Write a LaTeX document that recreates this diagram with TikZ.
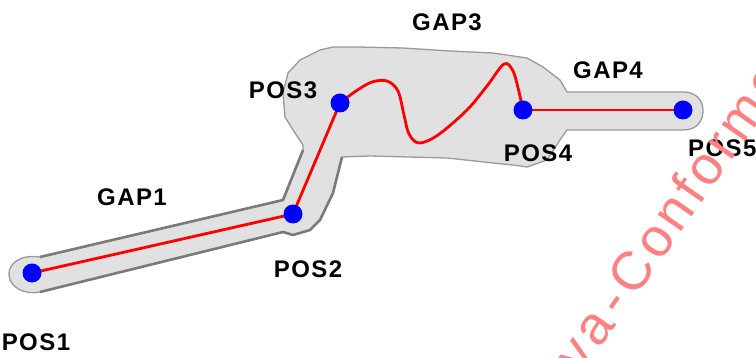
\documentclass[tikz,border=0pt]{standalone}
\usepackage{fontspec}
\newfontfamily\lblfont{Liberation Sans}[LetterSpace=6]
\newfontfamily\wmfont{Liberation Sans}[LetterSpace=8]
\definecolor{bandfill}{HTML}{E1E1E1}
\definecolor{bandedge}{HTML}{9A9A9A}
\definecolor{bandedgedark}{HTML}{7A7A7A}
\definecolor{wmred}{HTML}{FF8080}
\tikzset{
  lbl/.style={font=\lblfont\bfseries\fontsize{24}{24}\selectfont, inner sep=0pt, text=black},
  posdot/.style={circle, fill=blue, minimum size=19pt, inner sep=0pt},
  redline/.style={draw=red, line width=2.8pt, line join=round, line cap=round},
  wmark/.style={font=\wmfont\fontsize{54}{54}\selectfont, text=wmred, inner sep=0pt, rotate=55, anchor=base west}
}
\begin{document}
\begin{tikzpicture}[x=1pt,y=-1pt]
\useasboundingbox (0,0) rectangle (756,358);
\clip (0,0) rectangle (756,358);
\fill[white] (0,0) rectangle (756,358);
% gray buffer shape
\path[fill=bandfill, draw=bandedge, line width=1.3pt, line join=round]
  (40,257) -- (283,200) -- (303,150) -- (303,145) -- (293,130) -- (285,117)
  -- (283,93) -- (288,73) -- (300,60) -- (320,50) -- (333,47) -- (357,47)
  -- (403,48) -- (450,51) -- (493,53) -- (527,58) -- (543,67) -- (560,80)
  -- (567,92) -- (683,92) .. controls (697,92) and (703,101) .. (703,111)
  .. controls (703,121) and (697,130) .. (683,130) -- (567,130) -- (560,140)
  -- (547,160) -- (527,167) -- (513,165) -- (493,163) -- (447,158) -- (370,156)
  -- (342,157) -- (333,193) -- (320,220) -- (310,230) -- (293,235) -- (283,232)
  -- (40,292) .. controls (25,295) and (10,288) .. (9,275)
  .. controls (8,264) and (20,254) .. (40,257) -- cycle;
\draw[bandedgedark, line width=2.6pt, line join=round] (40,257) -- (283,200) -- (303,150);
\draw[bandedgedark, line width=2.6pt, line join=round] (342,157) -- (333,193) -- (320,220) -- (310,230) -- (293,235) -- (283,232) -- (40,292);
% positions
\coordinate (P1) at (32,273);
\coordinate (P2) at (293,214);
\coordinate (P3) at (340,103);
\coordinate (P4) at (523,110);
\coordinate (P5) at (683,110);
\draw[redline] (P1) -- (P2) -- (P3);
\draw[redline] plot[smooth, tension=0.55] coordinates {(P3) (356,91) (372,82) (387,81) (398,91) (404,115) (409,134) (419,143) (438,135) (467,110) (487,86) (504,64) (513,71) (519,92) (P4)};
\draw[redline] (P4) -- (P5);
\node[posdot] (d1) at (P1) {};
\node[posdot] (d2) at (P2) {};
\node[posdot] (d3) at (P3) {};
\node[posdot] (d4) at (P4) {};
\node[posdot] (d5) at (P5) {};
% labels
\node[lbl] (l1) at (36,342) {POS1};
\node[lbl] (g1) at (132,197) {GAP1};
\node[lbl] (l2) at (308,269) {POS2};
\node[lbl] (l3) at (283,90) {POS3};
\node[lbl] (g3) at (447,22) {GAP3};
\node[lbl] (g4) at (608,70) {GAP4};
\node[lbl] (l4) at (538,153) {POS4};
\node[lbl, anchor=west] (l5) at (688,148) {POS5};
% watermark
\node[wmark] (wm) at (560.8,404.9) {tiva\kern8pt-\kern7pt Conforme co};
\end{tikzpicture}
\end{document}
